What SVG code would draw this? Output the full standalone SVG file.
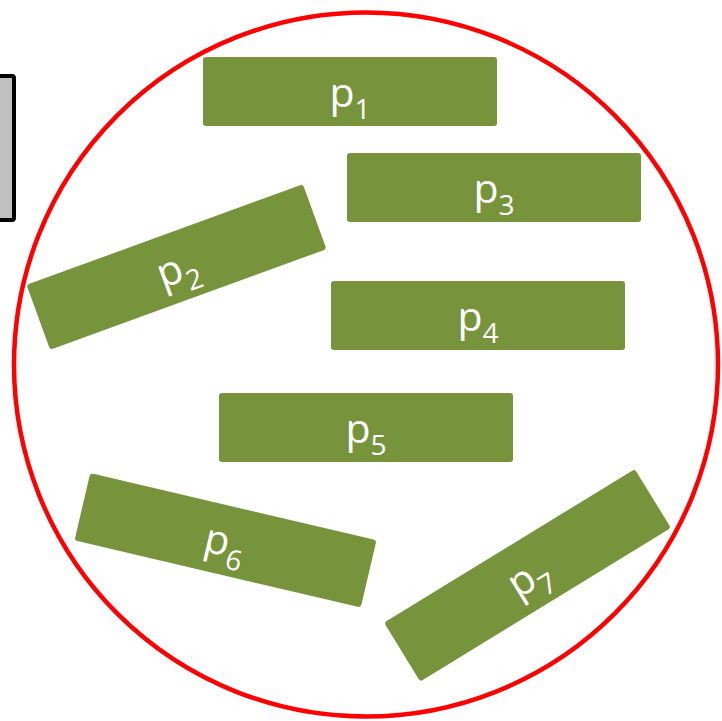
<svg xmlns="http://www.w3.org/2000/svg" width="722" height="721" viewBox="0 0 722 721">
<style>
.box{fill:#77933C;}
.lbl{font-family:"Open Sans","Liberation Sans",sans-serif;font-size:41px;fill:#FFFFFF;text-anchor:middle;}
.sub{font-size:28px;}
</style>
<rect width="722" height="721" fill="#FFFFFF"/>
<g id="side">
<rect x="-10" y="76" width="24" height="144" rx="2" fill="#C0C0C0" stroke="#000000" stroke-width="4"/>
</g>
<g id="boundary">
<circle cx="366" cy="364.5" r="352" fill="none" stroke="#FF0000" stroke-width="4.5"/>
</g>
<g id="p1">
<rect class="box" x="203" y="57" width="294" height="69" rx="3"/>
<text class="lbl" x="350" y="107">p<tspan class="sub" dy="12">1</tspan></text>
</g>
<g id="p3">
<rect class="box" x="347" y="153" width="294" height="69" rx="3"/>
<text class="lbl" x="494" y="203">p<tspan class="sub" dy="12">3</tspan></text>
</g>
<g id="p4">
<rect class="box" x="331" y="281" width="294" height="69" rx="3"/>
<text class="lbl" x="478" y="331">p<tspan class="sub" dy="12">4</tspan></text>
</g>
<g id="p5">
<rect class="box" x="219" y="393" width="294" height="69" rx="3"/>
<text class="lbl" x="366" y="443">p<tspan class="sub" dy="12">5</tspan></text>
</g>
<g id="p2" transform="rotate(-20 176.5 267)">
<rect class="box" x="29.5" y="232.5" width="294" height="69" rx="3"/>
<text class="lbl" x="176.5" y="282.5">p<tspan class="sub" dy="12">2</tspan></text>
</g>
<g id="p6" transform="rotate(13.2 225.5 540.3)">
<rect class="box" x="78.5" y="505.8" width="294" height="69" rx="3"/>
<text class="lbl" x="225.5" y="555.8">p<tspan class="sub" dy="12">6</tspan></text>
</g>
<g id="p7" transform="rotate(-31.5 527.5 575.3)">
<rect class="box" x="380.5" y="540.8" width="294" height="69" rx="3"/>
<text class="lbl" x="527.5" y="590.8">p<tspan class="sub" dy="12">7</tspan></text>
</g>
</svg>
